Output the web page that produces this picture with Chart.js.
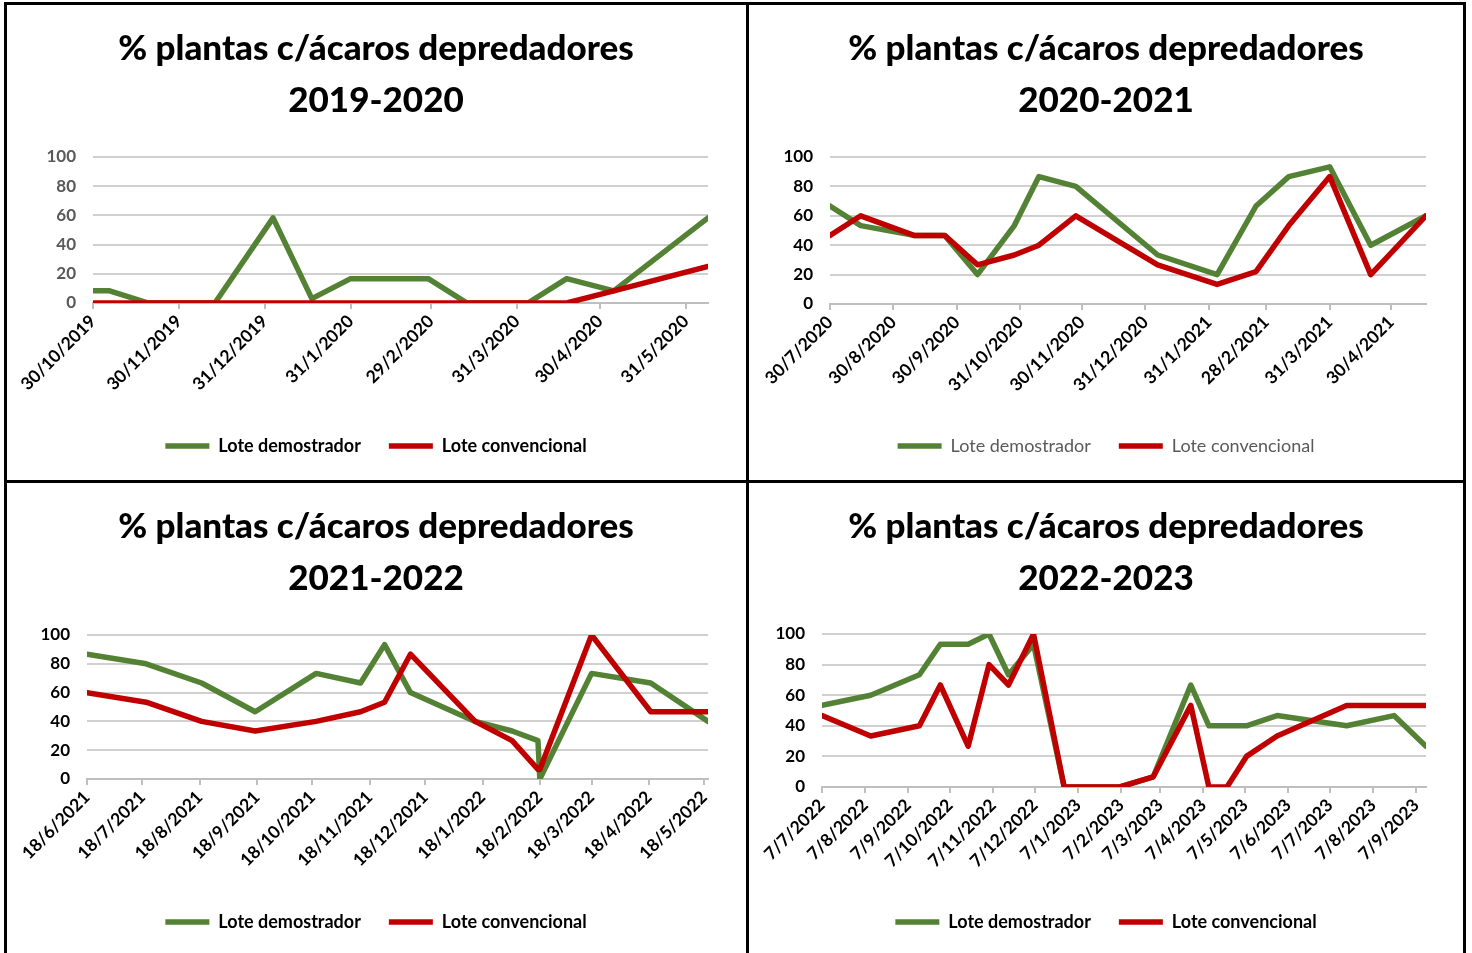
<!DOCTYPE html>
<html><head><meta charset="utf-8">
<script src="https://cdn.jsdelivr.net/npm/chart.js@4.4.1/dist/chart.umd.min.js"></script>
<style>
html,body{margin:0;padding:0;background:#fff;width:1472px;height:953px;overflow:hidden;position:relative}
.cell{position:absolute}
.ln{position:absolute;background:#000}
</style></head><body>
<div class="cell" style="left:6px;top:4px;width:740px;height:476px"><canvas id="c1"></canvas></div>
<div class="cell" style="left:748px;top:4px;width:716px;height:476px"><canvas id="c2"></canvas></div>
<div class="cell" style="left:6px;top:482px;width:740px;height:471px"><canvas id="c3"></canvas></div>
<div class="cell" style="left:748px;top:482px;width:716px;height:471px"><canvas id="c4"></canvas></div>
<div class="ln" style="left:4px;top:2px;width:1462px;height:3px"></div>
<div class="ln" style="left:4px;top:2px;width:3px;height:951px"></div>
<div class="ln" style="left:1463px;top:2px;width:3px;height:951px"></div>
<div class="ln" style="left:746px;top:2px;width:3px;height:951px"></div>
<div class="ln" style="left:4px;top:480px;width:1462px;height:3px"></div>
<script>
// ---- Data ----
const seriesNames = ['Lote demostrador', 'Lote convencional'];
const titleMain = '% plantas c/ácaros depredadores';

const p1Season = '2019-2020';
const p1Dates = ['30/10/2019','5/11/2019','19/11/2019','13/12/2019','3/1/2020','17/1/2020','31/1/2020','28/2/2020','13/3/2020','4/4/2020','18/4/2020','5/5/2020','8/6/2020'];
const p1Demostrador = [8.33, 8.33, 0, 0, 58.33, 3, 16.67, 16.67, 0, 0, 16.67, 8.33, 58.33];
const p1Convencional = [0, 0, 0, 0, 0, 0, 0, 0, 0, 0, 0, 8.33, 25];
const p1Ticks = ['30/10/2019','30/11/2019','31/12/2019','31/1/2020','29/2/2020','31/3/2020','30/4/2020','31/5/2020'];

const p2Season = '2020-2021';
const p2Dates = ['30/7/2020','14/8/2020','9/9/2020','24/9/2020','10/10/2020','28/10/2020','9/11/2020','27/11/2020','6/1/2021','4/2/2021','23/2/2021','11/3/2021','31/3/2021','20/4/2021','17/5/2021'];
const p2Demostrador = [66.67, 53.33, 46.67, 46.67, 20, 53.33, 86.67, 80, 33.33, 20, 66.67, 86.67, 93.33, 40, 60];
const p2Convencional = [46.67, 60, 46.67, 46.67, 26.67, 33.33, 40, 60, 26.67, 13.33, 22, 53.33, 86.67, 20, 60];
const p2Ticks = ['30/7/2020','30/8/2020','30/9/2020','31/10/2020','30/11/2020','31/12/2020','31/1/2021','28/2/2021','31/3/2021','30/4/2021'];

const p3Season = '2021-2022';
const p3Dates = ['18/6/2021','20/7/2021','19/8/2021','17/9/2021','20/10/2021','13/11/2021','26/11/2021','10/12/2021','14/1/2022','3/2/2022','17/2/2022','18/2/2022','18/3/2022','19/4/2022','20/5/2022'];
const p3Demostrador = [86.67, 80, 66.67, 46.67, 73.33, 66.67, 93.33, 60, 40, 33.33, 26.67, 0, 73.33, 66.67, 40];
const p3Convencional = [60, 53.33, 40, 33.33, 40, 46.67, 53.33, 86.67, 40, 26.67, 6.67, 6.67, 100, 46.67, 46.67];
const p3Ticks = ['18/6/2021','18/7/2021','18/8/2021','18/9/2021','18/10/2021','18/11/2021','18/12/2021','18/1/2022','18/2/2022','18/3/2022','18/4/2022','18/5/2022'];

const p4Season = '2022-2023';
const p4Dates = ['7/7/2022','11/8/2022','15/9/2022','30/9/2022','20/10/2022','4/11/2022','18/11/2022','6/12/2022','28/12/2022','6/2/2023','2/3/2023','29/3/2023','11/4/2023','24/4/2023','8/5/2023','30/5/2023','19/7/2023','22/8/2023','14/9/2023'];
const p4Demostrador = [53.33, 60, 73.33, 93.33, 93.33, 100, 73.33, 93.33, 0, 0, 6.67, 66.67, 40, 40, 40, 46.67, 40, 46.67, 26.67];
const p4Convencional = [46.67, 33.33, 40, 66.67, 26.67, 80, 66.67, 100, 0, 0, 6.67, 53.33, 0, 0, 20, 33.33, 53.33, 53.33, 53.33];
const p4Ticks = ['7/7/2022','7/8/2022','7/9/2022','7/10/2022','7/11/2022','7/12/2022','7/1/2023','7/2/2023','7/3/2023','7/4/2023','7/5/2023','7/6/2023','7/7/2023','7/8/2023','7/9/2023'];

// ---- Styles ----
const GREEN = '#548235', RED = '#C00000';
const FONT = 'Lato';

function dayNum(s){ const [d,m,y] = s.split('/').map(Number); return Date.UTC(y, m-1, d) / 86400000; }

function makeChart(id, season, dates, dem, conv, ticks, L){
  const xs = dates.map(dayNum);
  const tickVals = ticks.map(dayNum);
  const labelMap = {}; tickVals.forEach((v,i)=>{ labelMap[v] = ticks[i]; });
  const ds = (label, vals, color, order) => ({
    label, data: xs.map((x,i)=>({x, y: vals[i]})),
    borderColor: color, backgroundColor: color, borderWidth: 5.5,
    pointRadius: 0, pointHoverRadius: 0, tension: 0, fill: false,
    borderJoinStyle: 'round', borderCapStyle: 'round', order
  });
  return new Chart(document.getElementById(id), {
    type: 'line',
    data: { datasets: [ ds(seriesNames[0], dem, GREEN, 1), ds(seriesNames[1], conv, RED, 0) ] },
    options: {
      responsive: true, maintainAspectRatio: false, animation: false, devicePixelRatio: 1,
      layout: { padding: { left: 0, right: 0, top: 0, bottom: L.padBottom } },
      scales: {
        x: {
          type: 'linear', min: xs[0], max: xs[xs.length-1],
          afterBuildTicks: s => { s.ticks = tickVals.map(v => ({ value: v })); },
          afterFit: s => { s.height = L.xHeight; },
          ticks: { autoSkip: false, minRotation: 45, maxRotation: 45, padding: 2, color: '#000',
                   font: { family: FONT, weight: 'bold', size: 17.5 },
                   callback: v => (labelMap[v] !== undefined ? labelMap[v] : '') },
          grid: { drawOnChartArea: false, drawTicks: true, tickLength: 6, color: '#bfbfbf', lineWidth: 2 },
          border: { display: true, color: '#bfbfbf', width: 2 }
        },
        y: {
          min: 0, max: 100,
          afterFit: s => { s.width = L.yWidth; },
          ticks: { stepSize: 20, padding: 17, color: L.yColor, font: { family: FONT, weight: 'bold', size: 17 } },
          grid: { color: '#d0d0d0', lineWidth: 2, drawTicks: false },
          border: { display: false }
        },
        yR: {
          position: 'right', display: true,
          afterFit: s => { s.width = 38; },
          ticks: { display: false }, grid: { display: false }, border: { display: false }
        }
      },
      plugins: {
        title: { display: true, text: [titleMain, season], color: '#000',
                 font: { family: FONT, size: 35, weight: '900', lineHeight: 52/35 },
                 padding: { top: 19, bottom: L.titleBottom } },
        legend: { position: 'bottom',
          labels: { usePointStyle: true, pointStyle: 'line', pointStyleWidth: 44, padding: 28,
                    color: L.legendColor, font: { family: FONT, size: 18, weight: L.legendWeight },
                    sort: (a,b) => a.datasetIndex - b.datasetIndex } },
        tooltip: { enabled: false }
      }
    }
  });
}

makeChart('c1', p1Season, p1Dates, p1Demostrador, p1Convencional, p1Ticks,
  { padBottom: 15, xHeight: 106, yWidth: 87, titleBottom: 30, yColor: '#595959', legendColor: '#000', legendWeight: 'bold' });
makeChart('c2', p2Season, p2Dates, p2Demostrador, p2Convencional, p2Ticks,
  { padBottom: 15, xHeight: 105, yWidth: 82, titleBottom: 30, yColor: '#000', legendColor: '#595959', legendWeight: 'normal' });
makeChart('c3', p3Season, p3Dates, p3Demostrador, p3Convencional, p3Ticks,
  { padBottom: 12, xHeight: 106, yWidth: 81, titleBottom: 30, yColor: '#000', legendColor: '#000', legendWeight: 'bold' });
makeChart('c4', p4Season, p4Dates, p4Demostrador, p4Convencional, p4Ticks,
  { padBottom: 12, xHeight: 98, yWidth: 74, titleBottom: 29, yColor: '#000', legendColor: '#000', legendWeight: 'bold' });
</script>
</body></html>
